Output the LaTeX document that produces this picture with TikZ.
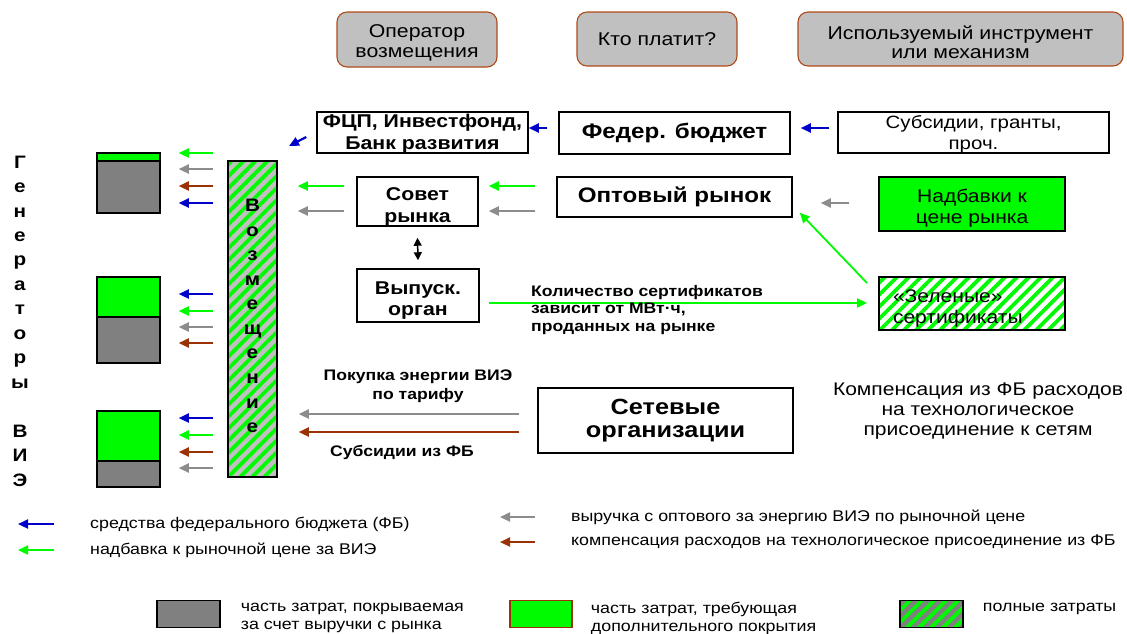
\documentclass[tikz,border=0pt]{standalone}
\usepackage{fontspec}
\setmainfont{Liberation Sans}[FakeStretch=1.15]
\usetikzlibrary{arrows.meta,patterns.meta}
\definecolor{vie-green}{RGB}{0,250,0}
\definecolor{cost-gray}{RGB}{128,128,128}
\definecolor{bar-gray}{RGB}{192,192,192}
\definecolor{head-gray}{RGB}{192,192,192}
\definecolor{head-brown}{RGB}{175,75,25}
\definecolor{fb-blue}{RGB}{0,0,200}
\definecolor{rev-gray}{RGB}{140,140,140}
\definecolor{tech-brown}{RGB}{155,50,5}
\newcommand{\boxlift}[1]{\rule{0pt}{#1}}
\tikzset{
    head-box/.style = {draw=head-brown, line width=1.1pt, fill=head-gray, rounded corners=10pt, align=center, inner sep=0pt, font=\fontsize{18.5}{19.5}\selectfont},
    plain-box/.style = {draw=black, line width=1.5pt, fill=white, align=center, inner sep=0pt},
    bold-box/.style = {plain-box, font=\bfseries\fontsize{18.5}{21.5}\selectfont},
    big-box/.style = {plain-box, font=\bfseries\fontsize{21}{23}\selectfont},
    text-box/.style = {plain-box, font=\fontsize{18.3}{21}\selectfont},
    cost-box/.style = {draw=black, line width=1.5pt, inner sep=0pt},
    hatched/.style = {pattern={Lines[angle=45,distance=8.5pt,line width=3.8pt]}, pattern color=vie-green},
    small-bold/.style = {inner sep=0pt, align=center, font=\bfseries\fontsize{15.3}{18.5}\selectfont},
    legend-text/.style = {inner sep=0pt, anchor=west, align=left, font=\fontsize{15.5}{18}\selectfont},
    flow/.style = {line width=2.2pt, -{Triangle[length=10pt,width=9pt]}},
    fb-arrow/.style = {flow, draw=fb-blue, fill=fb-blue},
    add-arrow/.style = {flow, draw=vie-green, fill=vie-green},
    rev-arrow/.style = {flow, draw=rev-gray, fill=rev-gray},
    tech-arrow/.style = {flow, draw=tech-brown, fill=tech-brown},
}

\begin{document}
\begin{tikzpicture}[x=1pt,y=-1pt]
\useasboundingbox (0,0) rectangle (1127,633);

% column headers
\node[head-box, minimum width=160pt, minimum height=55pt] (head-op) at (417,39.5) {\boxlift{20pt}Оператор\\возмещения};
\node[head-box, minimum width=160pt, minimum height=54pt] (head-pay) at (657,39) {Кто платит?};
\node[head-box, minimum width=325pt, minimum height=54pt] (head-tool) at (960.5,39) {\boxlift{20pt}Используемый инструмент\\или механизм};

% boxes
\node[bold-box, minimum width=211pt, minimum height=41pt] (fcp) at (422.5,132.5) {\boxlift{15.5pt}ФЦП, Инвестфонд,\\Банк развития};
\node[big-box, minimum width=231pt, minimum height=42pt] (fed) at (674.5,133) {Федер. бюджет};
\node[text-box, minimum width=271pt, minimum height=41pt, font=\fontsize{17.8}{21}\selectfont] (subs) at (973.5,132.5) {\boxlift{16pt}Субсидии, гранты,\\проч.};
\node[bold-box, minimum width=121pt, minimum height=49pt] (sovet) at (417.5,201.5) {\boxlift{23.5pt}Совет\\рынка};
\node[big-box, minimum width=235pt, minimum height=40pt] (opt) at (674.5,197) {Оптовый рынок};
\node[text-box, fill=vie-green, minimum width=186pt, minimum height=54pt] (nadb) at (972,204) {\boxlift{21.5pt}Надбавки к\\цене рынка};
\node[bold-box, minimum width=122pt, minimum height=53pt] (vyp) at (418,295.5) {\boxlift{22.5pt}Выпуск.\\орган};
\node[text-box, hatched, align=left, text width=158pt, minimum width=186pt, minimum height=53pt] (cert) at (972,303.5) {\boxlift{22.5pt}«Зеленые»\\сертификаты};
\node[big-box, minimum width=255pt, minimum height=65pt, font=\bfseries\fontsize{22}{23.5}\selectfont] (grid) at (665.5,420.5) {Сетевые\\организации};
\node[inner sep=0pt, align=center, font=\fontsize{18.3}{20}\selectfont] (comp) at (978,411) {Компенсация из ФБ расходов\\на технологическое\\присоединение к сетям};

% generators and compensation bar
\node[inner sep=0pt, align=center, font=\bfseries\fontsize{18}{24.46}\selectfont] (gen-lbl) at (20,321) {Г\\е\\н\\е\\р\\а\\т\\о\\р\\ы\\ \\В\\И\\Э};
\node[cost-box, preaction={fill=bar-gray}, hatched, minimum width=49pt, minimum height=316pt] (bar) at (252.5,319) {};
\node[inner sep=0pt, align=center, font=\bfseries\fontsize{18}{24.55}\selectfont] (bar-lbl) at (bar.center) [yshift=3pt] {В\\о\\з\\м\\е\\щ\\е\\н\\и\\е};
\node[cost-box, fill=vie-green, minimum width=63pt, minimum height=8pt] (g1-add) at (128.5,157) {};
\node[cost-box, fill=cost-gray, minimum width=63pt, minimum height=52pt] (g1) at (128.5,187) {};
\node[cost-box, fill=vie-green, minimum width=63pt, minimum height=40pt] (g2-add) at (128.5,297) {};
\node[cost-box, fill=cost-gray, minimum width=63pt, minimum height=46pt] (g2) at (128.5,340) {};
\node[cost-box, fill=vie-green, minimum width=63pt, minimum height=50pt] (g3-add) at (128.5,436) {};
\node[cost-box, fill=cost-gray, minimum width=63pt, minimum height=26pt] (g3) at (128.5,474) {};

\coordinate (pay-from) at ([xshift=-14pt]bar.west);
\coordinate (pay-to) at ([xshift=18pt]g1.east);
\foreach \yy/\kind in {153/add,169/rev,186/tech,203/fb,294/fb,311/add,327/rev,343/tech,418/fb,435/add,452/tech,468/rev}
    \draw[\kind-arrow] (pay-from |- 0,\yy) -- (pay-to |- 0,\yy);

% flows between boxes
\coordinate (fcp-out) at (289,146);
\draw[fb-arrow] ([xshift=-10pt,yshift=-4.5pt]fcp.west) -- (fcp-out);
\draw[fb-arrow] ([xshift=-11pt,yshift=5pt]fed.west) -- (fcp.east |- 0,128);
\draw[fb-arrow] ([xshift=-8pt,yshift=4.5pt]subs.west) -- ([xshift=10pt,yshift=5pt]fed.east);
\draw[add-arrow] ([xshift=-21pt]opt.west |- 0,186) -- ([xshift=10pt]sovet.east |- 0,186);
\draw[rev-arrow] ([xshift=-21pt]opt.west |- 0,211) -- ([xshift=10pt]sovet.east |- 0,211);
\draw[add-arrow] ([xshift=-12pt]sovet.west |- 0,186) -- ([xshift=20pt]bar.east |- 0,186);
\draw[rev-arrow] ([xshift=-12pt]sovet.west |- 0,211) -- ([xshift=20pt]bar.east |- 0,211);
\draw[line width=1.5pt, {Triangle[length=8pt,width=8pt]}-{Triangle[length=8pt,width=8pt]}] ([yshift=-11pt]sovet.south) -- ([yshift=8pt]vyp.north);
\draw[add-arrow, line width=1.8pt] ([xshift=9pt]vyp.east |- 0,303) -- ([xshift=-10pt]cert.west |- 0,303);
\draw[add-arrow, line width=1.8pt] ([xshift=-10pt,yshift=-8pt]cert.north west) -- ([xshift=7pt,yshift=5pt]opt.south east);
\draw[rev-arrow] ([xshift=-29pt]nadb.west |- 0,203) -- ([xshift=28pt]opt.east |- 0,203);
\draw[rev-arrow] ([xshift=-18pt]grid.west |- 0,414) -- ([xshift=21pt]bar.east |- 0,414);
\draw[tech-arrow] ([xshift=-18pt]grid.west |- 0,432) -- ([xshift=21pt]bar.east |- 0,432);

% flow labels
\node[small-bold, align=left, anchor=west, font=\bfseries\fontsize{15.3}{17.5}\selectfont] (cert-lbl) at (531,310) {Количество сертификатов\\зависит от МВт·ч,\\проданных на рынке};
\node[small-bold] (buy-lbl) at (418,386) {Покупка энергии ВИЭ\\по тарифу};
\node[small-bold] (sub-lbl) at (402,452) {Субсидии из ФБ};

% legend
\node[legend-text] (leg-fb) at (90,524) {средства федерального бюджета (ФБ)};
\node[legend-text] (leg-add) at (90,550) {надбавка к рыночной цене за ВИЭ};
\node[legend-text] (leg-rev) at (571,517) {выручка с оптового за энергию ВИЭ по рыночной цене};
\node[legend-text] (leg-tech) at (571,542) {компенсация расходов на технологическое присоединение из ФБ};
\draw[fb-arrow] ([xshift=-36pt]leg-fb.west) -- ([xshift=-72pt]leg-fb.west);
\draw[add-arrow] ([xshift=-36pt]leg-add.west) -- ([xshift=-72pt]leg-add.west);
\draw[rev-arrow] ([xshift=-36pt]leg-rev.west) -- ([xshift=-71pt]leg-rev.west);
\draw[tech-arrow] ([xshift=-36pt]leg-tech.west) -- ([xshift=-71pt]leg-tech.west);

\node[cost-box, fill=cost-gray, minimum width=63pt, minimum height=27pt] (key-market) at (188.5,614) {};
\node[cost-box, draw=tech-brown, fill=vie-green, minimum width=62pt, minimum height=27pt] (key-extra) at (541,614) {};
\node[cost-box, preaction={fill=cost-gray}, hatched, minimum width=63pt, minimum height=27pt] (key-full) at (931.5,614) {};
\node[legend-text] (key-market-lbl) at ([xshift=20pt,yshift=-4pt]key-market.east) {часть затрат, покрываемая\\за счет выручки с рынка};
\node[legend-text] (key-extra-lbl) at ([xshift=18pt,yshift=-4pt]key-extra.east) {часть затрат, требующая\\дополнительного покрытия};
\node[legend-text] (key-full-lbl) at ([xshift=19pt,yshift=5pt]key-full.east) {полные затраты};
\end{tikzpicture}
\end{document}
